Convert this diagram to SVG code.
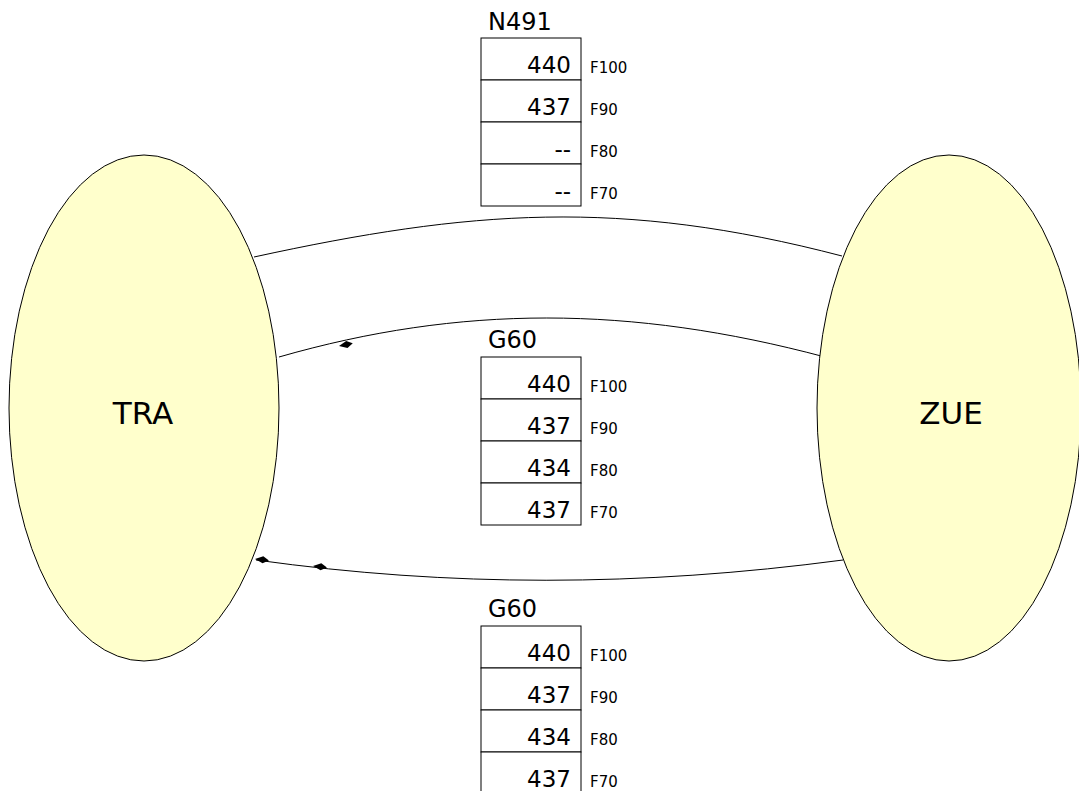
<svg xmlns="http://www.w3.org/2000/svg" width="1079" height="791" viewBox="0 0 1079 791">
<style>
.ell{fill:#ffffcc;stroke:#000;stroke-width:1}
.big{font-family:"DejaVu Sans",sans-serif;font-size:31px;fill:#000}
.lbl{font-family:"DejaVu Sans",sans-serif;font-size:24px;fill:#000}
.num{font-family:"DejaVu Sans",sans-serif;font-size:23px;fill:#000;text-anchor:end}
.f{font-family:"DejaVu Sans",sans-serif;font-size:15px;fill:#000}
.cell{fill:#fff;stroke:#000;stroke-width:1}
.con{fill:none;stroke:#000;stroke-width:1}
</style>
<defs>
<path id="ah" d="M0,0 L8,-3.5 L14,0 L8,3.5 Z" fill="#000"/>
</defs>
<rect width="1079" height="791" fill="#fff"/>
<g id="connectors">
<path class="con" d="M254,257 C470,210 620,198 842,256"/>
<path class="con" d="M279,357 C460,305 630,305 825,357"/>
<path class="con" d="M843,560 C640,587 450,587 256,560"/>
<use href="#ah" transform="translate(339,346) rotate(-11)"/>
<use href="#ah" transform="translate(313,566) rotate(6)"/>
<use href="#ah" transform="translate(255,559) rotate(6)"/>
</g>
<g id="TRA">
<ellipse class="ell" cx="144" cy="408" rx="135" ry="253"/>
<text class="big" x="143" y="424" text-anchor="middle">TRA</text>
</g>
<g id="ZUE">
<ellipse class="ell" cx="949" cy="408" rx="132" ry="253"/>
<text class="big" x="951" y="424" text-anchor="middle">ZUE</text>
</g>
<g id="N491">
<text class="lbl" x="488" y="30">N491</text>
<rect class="cell" x="481" y="38" width="100" height="42"/>
<rect class="cell" x="481" y="80" width="100" height="42"/>
<rect class="cell" x="481" y="122" width="100" height="42"/>
<rect class="cell" x="481" y="164" width="100" height="42"/>
<text class="num" x="571" y="73">440</text>
<text class="num" x="571" y="115">437</text>
<text class="num" x="571" y="157">--</text>
<text class="num" x="571" y="199">--</text>
<text class="f" x="590" y="73">F100</text>
<text class="f" x="590" y="115">F90</text>
<text class="f" x="590" y="157">F80</text>
<text class="f" x="590" y="199">F70</text>
</g>
<g id="G60a">
<text class="lbl" x="488" y="348">G60</text>
<rect class="cell" x="481" y="357" width="100" height="42"/>
<rect class="cell" x="481" y="399" width="100" height="42"/>
<rect class="cell" x="481" y="441" width="100" height="42"/>
<rect class="cell" x="481" y="483" width="100" height="42"/>
<text class="num" x="571" y="392">440</text>
<text class="num" x="571" y="434">437</text>
<text class="num" x="571" y="476">434</text>
<text class="num" x="571" y="518">437</text>
<text class="f" x="590" y="392">F100</text>
<text class="f" x="590" y="434">F90</text>
<text class="f" x="590" y="476">F80</text>
<text class="f" x="590" y="518">F70</text>
</g>
<g id="G60b">
<text class="lbl" x="488" y="617">G60</text>
<rect class="cell" x="481" y="626" width="100" height="42"/>
<rect class="cell" x="481" y="668" width="100" height="42"/>
<rect class="cell" x="481" y="710" width="100" height="42"/>
<rect class="cell" x="481" y="752" width="100" height="42"/>
<text class="num" x="571" y="661">440</text>
<text class="num" x="571" y="703">437</text>
<text class="num" x="571" y="745">434</text>
<text class="num" x="571" y="787">437</text>
<text class="f" x="590" y="661">F100</text>
<text class="f" x="590" y="703">F90</text>
<text class="f" x="590" y="745">F80</text>
<text class="f" x="590" y="787">F70</text>
</g>
</svg>
